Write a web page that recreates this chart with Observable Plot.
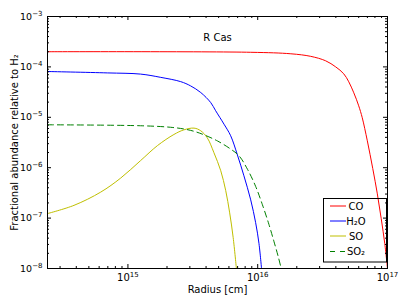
<!DOCTYPE html>
<html><head><meta charset="utf-8">
<script src="https://cdn.jsdelivr.net/npm/d3@7"></script>
<script src="https://cdn.jsdelivr.net/npm/@observablehq/plot@0.6"></script>
<style>
body{margin:0;background:#fff;}
#chart svg{display:block;}
</style></head><body><div id="chart"></div>
<script>
// ---- data ----
const seriesNames = ["CO", "H₂O", "SO", "SO₂"];
const seriesColors = ["#ff0000", "#0000ff", "#bfbf00", "#008000"];

const coRadius = [2.4e14, 8.83e15, 1.80e16, 2.56e16, 3.34e16, 3.99e16, 4.60e16, 5.03e16, 5.50e16, 6.00e16, 6.39e16, 6.99e16, 7.70e16, 8.35e16, 8.95e16, 9.53e16, 1.0e17];
const coAbund  = [2.0e-4, 1.95e-4, 1.82e-4, 1.62e-4, 1.32e-4, 1.0e-4, 7.3e-5, 5.06e-5, 3.06e-5, 1.69e-5, 9.8e-6, 3.42e-6, 9.6e-7, 3.03e-7, 9.7e-8, 3.1e-8, 9.9e-9];

const h2oRadius = [2.4e14, 6.93e14, 1.25e15, 1.79e15, 2.55e15, 3.04e15, 3.64e15, 4.35e15, 4.74e15, 5.50e15, 6.19e15, 6.97e15, 7.83e15, 8.83e15, 9.64e15, 1.023e16, 1.07e16];
const h2oAbund  = [8.1e-5, 7.6e-5, 7.2e-5, 6.2e-5, 5.1e-5, 4.2e-5, 3.1e-5, 1.95e-5, 1.35e-5, 7.3e-6, 4.3e-6, 1.8e-6, 6.9e-7, 2.3e-7, 8.1e-8, 3.1e-8, 1.0e-8];

const soRadius = [2.4e14, 3.84e14, 6.17e14, 8.79e14, 1.25e15, 1.69e15, 2.26e15, 2.69e15, 3.23e15, 3.64e15, 4.09e15, 4.60e15, 5.19e15, 5.67e15, 6.08e15, 6.47e15, 6.85e15];
const soAbund  = [1.23e-7, 1.79e-7, 3.28e-7, 6.22e-7, 1.38e-6, 2.75e-6, 4.56e-6, 5.62e-6, 6.1e-6, 5.4e-6, 3.9e-6, 1.98e-6, 8.7e-7, 3.5e-7, 1.27e-7, 4.1e-8, 1.0e-8];

const so2Radius = [2.4e14, 1.25e15, 2.13e15, 2.79e15, 3.33e15, 3.85e15, 4.89e15, 6.19e15, 7.18e15, 8.34e15, 9.66e15, 1.087e16, 1.222e16, 1.336e16, 1.44e16, 1.517e16];
const so2Abund  = [7.1e-6, 6.8e-6, 6.34e-6, 5.78e-6, 5.15e-6, 4.5e-6, 3.4e-6, 2.34e-6, 1.72e-6, 9.3e-7, 4.2e-7, 1.84e-7, 7.4e-8, 3.39e-8, 1.71e-8, 1.0e-8];

const xTicks = [1e15, 1e16, 1e17];
const xTickExponents = ["15", "16", "17"];
const yTicks = [1e-8, 1e-7, 1e-6, 1e-5, 1e-4, 1e-3];
const yTickExponents = ["-8", "-7", "-6", "-5", "-4", "-3"];
const tickBase = "10";
const titleText = "R Cas";
const xLabel = "Radius [cm]";
const yLabel = "Fractional abundance relative to H₂";

// ---- build tables ----
const toRows = (rs, fs) => rs.map((r, i) => ({r, f: fs[i]}));
const series = [toRows(coRadius, coAbund), toRows(h2oRadius, h2oAbund), toRows(soRadius, soAbund), toRows(so2Radius, so2Abund)];

const xMinor = [];
for (const base of [1e14, 1e15, 1e16]) for (let k = 2; k <= 9; k++) { const v = k * base; if (v >= 2.4e14 && v < 1e17) xMinor.push(v); }
const yMinor = [];
for (const base of [1e-8, 1e-7, 1e-6, 1e-5, 1e-4]) for (let k = 2; k <= 9; k++) yMinor.push(k * base);

// ---- layout ----
const W = 407, H = 305, mL = 47, mR = 20, mT = 16, mB = 37;
const fw = W - mL - mR, fh = H - mT - mB;
const majorLen = 4, minorLen = 2;

const marks = [];
series.forEach((rows, i) => {
  marks.push(Plot.line(rows, {
    x: "r", y: "f", stroke: seriesColors[i], strokeWidth: 1, curve: "catmull-rom", clip: true,
    strokeDasharray: i === 3 ? "6,4" : null
  }));
});
marks.push(
  Plot.tickX(xTicks, {x: d => d, stroke: "#000", insetTop: fh - majorLen}),
  Plot.tickX(xTicks, {x: d => d, stroke: "#000", insetBottom: fh - majorLen}),
  Plot.tickX(xMinor, {x: d => d, stroke: "#000", insetTop: fh - minorLen}),
  Plot.tickX(xMinor, {x: d => d, stroke: "#000", insetBottom: fh - minorLen}),
  Plot.tickY(yTicks, {y: d => d, stroke: "#000", insetRight: fw - majorLen}),
  Plot.tickY(yTicks, {y: d => d, stroke: "#000", insetLeft: fw - majorLen}),
  Plot.tickY(yMinor, {y: d => d, stroke: "#000", insetRight: fw - minorLen}),
  Plot.tickY(yMinor, {y: d => d, stroke: "#000", insetLeft: fw - minorLen}),
  Plot.frame({stroke: "#000"}),
  Plot.axisX({ticks: xTicks, tickSize: 0, tickPadding: 5, label: null, fontSize: 10,
    tickFormat: d => tickBase + "^" + xTickExponents[xTicks.indexOf(d)]}),
  Plot.axisY({ticks: yTicks, tickSize: 0, tickPadding: 5, label: null, fontSize: 9.5,
    tickFormat: d => tickBase + "^" + yTickExponents[yTicks.indexOf(d)]}),
  Plot.text([titleText], {frameAnchor: "top", dy: 17, fontSize: 10}),
  Plot.text([xLabel], {frameAnchor: "bottom", dy: 24, fontSize: 10}),
  Plot.text([yLabel], {frameAnchor: "left", textAnchor: "middle", dx: -33, rotate: -90, fontSize: 10})
);

const chart = Plot.plot({
  width: W, height: H,
  marginLeft: mL, marginRight: mR, marginTop: mT, marginBottom: mB,
  style: {fontFamily: "DejaVu Sans", fontSize: "10px", background: "#fff", color: "#000"},
  x: {type: "log", domain: [2.4e14, 1e17]},
  y: {type: "log", domain: [1e-8, 1e-3]},
  marks
});

// ---- turn "10^e" tick labels into base + superscript ----
const svg = d3.select(chart);
svg.selectAll("text").each(function () {
  const t = this.textContent;
  if (!/^10\^/.test(t)) return;
  const exp = t.slice(3).replace("-", "\u2212");
  const sel = d3.select(this);
  sel.text(null);
  sel.append("tspan").text(tickBase);
  sel.append("tspan").attr("font-size", 7).attr("dy", "-4").text(exp);
});

// ---- legend (lower right, inside the frame) ----
const lg = svg.append("g").attr("font-family", "DejaVu Sans").attr("font-size", 10);
lg.append("rect").attr("x", 323.5).attr("y", 198.5).attr("width", 63).attr("height", 63.5)
  .attr("fill", "none").attr("stroke", "#000").attr("stroke-width", 1);
const rowY = [206, 221, 236, 251.5];
seriesNames.forEach((name, i) => {
  lg.append("line").attr("x1", 330).attr("x2", 346).attr("y1", rowY[i]).attr("y2", rowY[i])
    .attr("stroke", seriesColors[i]).attr("stroke-width", 1)
    .attr("stroke-dasharray", i === 3 ? "5,5" : null);
  lg.append("text").attr("x", 356).attr("y", rowY[i]).attr("dy", "0.35em").attr("fill", "#000").text(name);
});

document.getElementById("chart").appendChild(chart);
</script>
</body></html>
